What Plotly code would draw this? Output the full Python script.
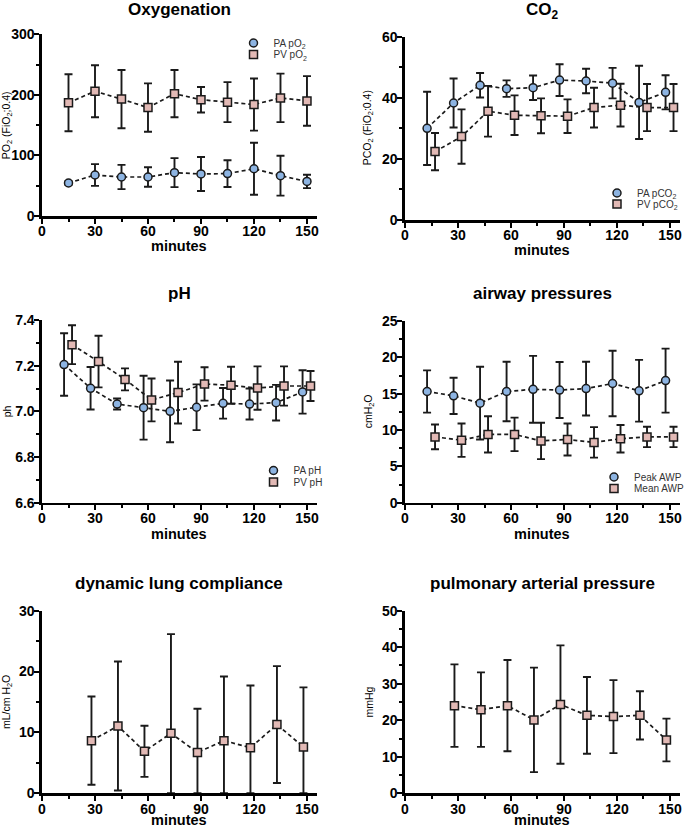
import plotly.graph_objects as go

# ---------------- data ----------------
minutes = [15, 30, 45, 60, 75, 90, 105, 120, 135, 150]
minutes_late = [30, 45, 60, 75, 90, 105, 120, 135, 150]
x_ticks = [0, 30, 60, 90, 120, 150]

pa_po2 = [54.5, 67.7, 64.4, 64.4, 71.6, 69.4, 70.0, 78.0, 66.6, 57.0]
pa_po2_sd = [3, 18, 20, 16, 24, 28, 22, 43, 33, 11]
pv_po2 = [187, 206, 193, 179, 202, 192, 188, 184, 195, 190]
pv_po2_sd = [47, 43, 48, 40, 39, 21, 33, 43, 40, 41]

pa_pco2 = [30.0, 38.3, 44.1, 43.0, 43.3, 45.8, 45.5, 44.8, 38.5, 41.8]
pa_pco2_sd = [12.0, 8.0, 4.0, 2.7, 4.0, 5.2, 4.0, 5.0, 12.0, 5.6]
pv_pco2 = [22.4, 27.3, 35.6, 34.3, 34.1, 34.0, 36.8, 37.6, 36.8, 36.8]
pv_pco2_sd = [6.1, 8.9, 8.3, 6.5, 5.7, 5.5, 6.5, 7.0, 7.7, 7.7]

pa_ph = [7.205, 7.101, 7.032, 7.016, 7.000, 7.018, 7.035, 7.032, 7.038, 7.085]
pa_ph_sd = [0.137, 0.093, 0.024, 0.140, 0.135, 0.100, 0.067, 0.068, 0.078, 0.095]
pv_ph = [7.292, 7.218, 7.140, 7.050, 7.082, 7.120, 7.114, 7.102, 7.111, 7.111]
pv_ph_sd = [0.085, 0.113, 0.048, 0.094, 0.135, 0.073, 0.081, 0.095, 0.086, 0.066]

peak_awp = [15.3, 14.7, 13.7, 15.3, 15.6, 15.5, 15.7, 16.4, 15.4, 16.8]
peak_awp_sd = [2.9, 2.5, 5.0, 4.1, 4.6, 3.85, 3.7, 4.5, 4.25, 4.4]
mean_awp = [9.05, 8.6, 9.4, 9.4, 8.5, 8.7, 8.3, 8.8, 9.05, 9.05]
mean_awp_sd = [1.7, 2.3, 2.5, 2.3, 2.5, 2.2, 2.1, 1.9, 1.4, 1.4]

compliance = [8.65, 11.05, 6.9, 9.85, 6.7, 8.65, 7.5, 11.3, 7.6]
compliance_sd = [7.25, 10.6, 4.2, 16.3, 7.2, 10.55, 10.2, 9.6, 9.8]

pap = [24.0, 22.9, 24.0, 20.1, 24.3, 21.35, 21.0, 21.35, 14.6]
pap_sd = [11.3, 10.2, 12.5, 14.3, 16.2, 10.5, 10.0, 6.6, 5.85]

# ---------------- style ----------------
W, H = 685, 828
FONT = "Liberation Sans, Arial, Helvetica, sans-serif"
BLUE = "#8DB4E2"
PINK = "#E2B9B5"
INK = "#1a1a1a"
NUDGE_A = -2.5   # horizontal nudge of first series (Prism style)
NUDGE_B = 2.0    # horizontal nudge of second series
NUDGE_S = -2.0   # nudge of single series panels


def fx(p):
    return p / W


def fy(p):
    return 1 - p / H


fig = go.Figure()

LEFT = (42, 316.7)
RIGHT = (405, 679.7)
XMAX = 155.5

panels = [
    dict(xd=LEFT, yd=(34.3, 216), yr=(0, 300), dt=100, mdt=50, fmt="",
         title="Oxygenation", tty=9.5, mty=246,
         ytitle="PO<sub>2</sub> (FiO<sub>2</sub>;0.4)", ytx=7),
    dict(xd=RIGHT, yd=(36.7, 220), yr=(0, 60), dt=20, mdt=10, fmt="",
         title="CO<sub>2</sub>", tty=11, mty=250,
         ytitle="PCO<sub>2</sub> (FiO<sub>2</sub>:0.4)", ytx=368),
    dict(xd=LEFT, yd=(320, 502.7), yr=(6.6, 7.4), dt=0.2, mdt=0.1, fmt=".1f",
         title="pH", tty=293.5, mty=534, ytitle="ph", ytx=7),
    dict(xd=RIGHT, yd=(321, 502.7), yr=(0, 25), dt=5, mdt=2.5, fmt="",
         title="airway pressures", tty=293.5, mty=534,
         ytitle="cmH<sub>2</sub>O", ytx=368.5),
    dict(xd=LEFT, yd=(610.7, 793.3), yr=(0, 30), dt=10, mdt=5, fmt="",
         title="dynamic lung compliance", tty=583.5, mty=819.5,
         ytitle="mL/cm H<sub>2</sub>O", ytx=7),
    dict(xd=RIGHT, yd=(610.7, 793.3), yr=(0, 50), dt=10, mdt=5, fmt="",
         title="pulmonary arterial pressure", tty=583.5, mty=819.5,
         ytitle="mmHg", ytx=368.5),
]

layout = dict(
    width=W, height=H,
    margin=dict(l=0, r=0, t=0, b=0, autoexpand=False),
    paper_bgcolor="white", plot_bgcolor="white",
    font=dict(family=FONT, color="black"),
    showlegend=True,
)
annotations = []

for i, p in enumerate(panels, start=1):
    sx = "" if i == 1 else str(i)
    xa = dict(
        domain=[fx(p["xd"][0]), fx(p["xd"][1])], range=[0, XMAX],
        anchor="y" + sx, tickmode="array", tickvals=x_ticks,
        showline=True, linecolor="black", linewidth=2.6,
        ticks="outside", ticklen=5, tickwidth=2, tickcolor="black",
        ticklabelstandoff=-4,
        tickfont=dict(family=FONT, size=14, color="black", weight="bold"),
        showgrid=False, zeroline=False,
        minor=dict(tickmode="linear", tick0=15, dtick=30, ticks="outside",
                   ticklen=3, tickwidth=2, tickcolor="black", showgrid=False),
    )
    ya = dict(
        domain=[fy(p["yd"][1]), fy(p["yd"][0])], range=list(p["yr"]),
        anchor="x" + sx, tick0=p["yr"][0], dtick=p["dt"], tickformat=p["fmt"],
        showline=True, linecolor="black", linewidth=2.6,
        ticks="outside", ticklen=5, tickwidth=2, tickcolor="black",
        ticklabelstandoff=-3,
        tickfont=dict(family=FONT, size=14, color="black", weight="bold"),
        showgrid=False, zeroline=False,
        minor=dict(dtick=p["mdt"], tick0=p["yr"][0], ticks="outside",
                   ticklen=3, tickwidth=2, tickcolor="black", showgrid=False),
    )
    layout["xaxis" + sx] = xa
    layout["yaxis" + sx] = ya
    xc = (p["xd"][0] + p["xd"][1]) / 2
    annotations.append(dict(
        text=p["title"], x=fx(xc), y=fy(p["tty"]), xref="paper", yref="paper",
        xanchor="center", yanchor="middle", showarrow=False,
        font=dict(family=FONT, size=17, color="black", weight="bold")))
    annotations.append(dict(
        text="minutes", x=fx(xc), y=fy(p["mty"]), xref="paper", yref="paper",
        xanchor="center", yanchor="middle", showarrow=False,
        font=dict(family=FONT, size=14.5, color="black", weight="bold")))
    yc = (p["yd"][0] + p["yd"][1]) / 2
    annotations.append(dict(
        text=p["ytitle"], x=fx(p["ytx"]), y=fy(yc), xref="paper", yref="paper",
        xanchor="center", yanchor="middle", showarrow=False, textangle=-90,
        font=dict(family=FONT, size=10.5, color="black")))

layout["annotations"] = annotations


def add_series(idx, xs, ys, sd, color, symbol, name=None, legend=None, sdminus=None):
    sx = "" if idx == 1 else str(idx)
    fig.add_trace(go.Scatter(
        x=xs, y=ys, mode="lines", xaxis="x" + sx, yaxis="y" + sx,
        line=dict(color=INK, width=1.7, dash="4px,3px"),
        showlegend=False, hoverinfo="skip"))
    err = dict(type="data", array=sd, color=INK, thickness=1.9, width=4)
    if sdminus is not None:
        err["symmetric"] = False
        err["arrayminus"] = sdminus
    tr = dict(
        x=xs, y=ys, mode="markers", xaxis="x" + sx, yaxis="y" + sx,
        marker=dict(symbol=symbol, size=8, color=color,
                    line=dict(color=INK, width=1.5)),
        error_y=err, showlegend=name is not None)
    if name is not None:
        tr["name"] = name
        tr["legend"] = legend
    fig.add_trace(go.Scatter(**tr))


def nudge(ts, d):
    return [t + d for t in ts]


# Oxygenation (no nudge)
add_series(1, minutes, pa_po2, pa_po2_sd, BLUE, "circle", "PA pO<sub>2</sub>", "legend")
add_series(1, minutes, pv_po2, pv_po2_sd, PINK, "square", "PV pO<sub>2</sub>", "legend2")
# CO2
add_series(2, nudge(minutes, NUDGE_A), pa_pco2, pa_pco2_sd, BLUE, "circle", "PA pCO<sub>2</sub>", "legend3")
add_series(2, nudge(minutes, NUDGE_B), pv_pco2, pv_pco2_sd, PINK, "square", "PV pCO<sub>2</sub>", "legend4")
# pH
add_series(3, nudge(minutes, NUDGE_A), pa_ph, pa_ph_sd, BLUE, "circle", "PA pH", "legend5")
add_series(3, nudge(minutes, NUDGE_B), pv_ph, pv_ph_sd, PINK, "square", "PV pH", "legend6")
# airway pressures
add_series(4, nudge(minutes, NUDGE_A), peak_awp, peak_awp_sd, BLUE, "circle", "Peak AWP", "legend7")
add_series(4, nudge(minutes, NUDGE_B), mean_awp, mean_awp_sd, PINK, "square", "Mean AWP", "legend8")
# compliance (lower whisker stops at the axis)
add_series(5, nudge(minutes_late, NUDGE_S), compliance, compliance_sd, PINK, "square",
           sdminus=[min(s, v) for v, s in zip(compliance, compliance_sd)])
# pulmonary arterial pressure
add_series(6, nudge(minutes_late, NUDGE_S), pap, pap_sd, PINK, "square")

# legends: (symbol x, text x, y) in pixels
legend_pos = {
    "legend": (258, 269, 43), "legend2": (258, 269, 54.5),
    "legend3": (621, 633, 193), "legend4": (621, 633, 204),
    "legend5": (279, 288, 470.5), "legend6": (279, 288, 482),
    "legend7": (629, 634, 477), "legend8": (629, 634, 488.5),
}
for key, (sxp, txp, yp) in legend_pos.items():
    left = (sxp + txp) / 2 - 30
    if key in ("legend7", "legend8"):
        left = txp - 40
    layout[key] = dict(
        x=fx(left), y=fy(yp), xanchor="left", yanchor="middle",
        xref="paper", yref="paper", bgcolor="rgba(0,0,0,0)", borderwidth=0,
        font=dict(family=FONT, size=10, color="#333333"),
        itemsizing="trace", itemclick=False, itemdoubleclick=False)

fig.update_layout(**layout)
fig.write_html("out.html",
               config={"displayModeBar": False, "staticPlot": True},
               post_script="document.body.style.margin='0';"
                           "document.body.style.padding='0';")
